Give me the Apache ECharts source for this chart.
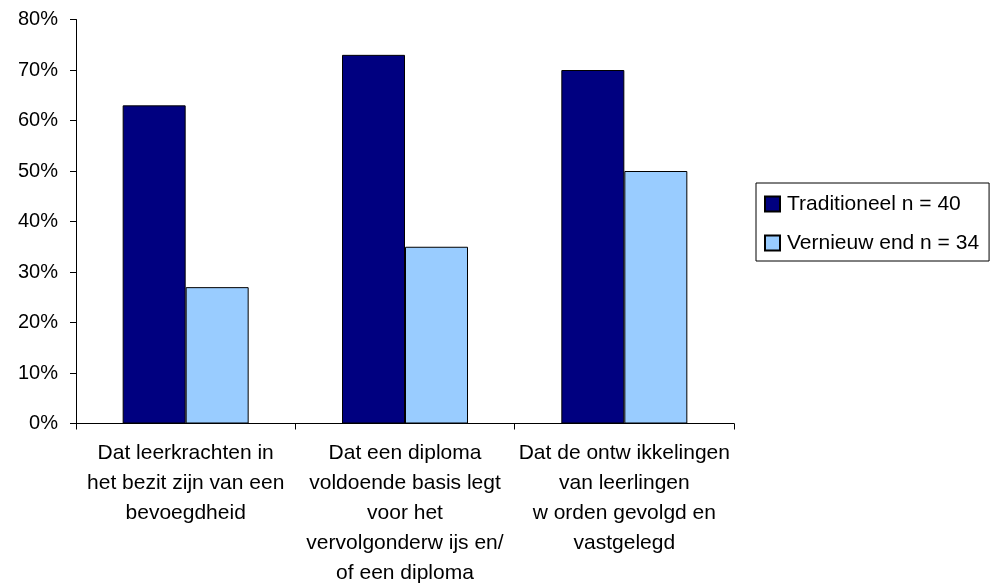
<!DOCTYPE html>
<html>
<head>
<meta charset="utf-8">
<script src="https://cdn.jsdelivr.net/npm/echarts@6/dist/echarts.min.js"></script>
<style>
html,body{margin:0;padding:0;background:#fff;}
#chart{width:992px;height:583px;}
</style>
</head>
<body>
<div id="chart"></div>
<script>
const categories = [
  "Dat leerkrachten in\nhet bezit zijn van een\nbevoegdheid",
  "Dat een diploma\nvoldoende basis legt\nvoor het\nvervolgonderw ijs en/\nof een diploma",
  "Dat de ontw ikkelingen\nvan leerlingen\nw orden gevolgd en\nvastgelegd"
];
const seriesNames = ["Traditioneel n = 40", "Vernieuw end n = 34"];
const traditioneel = [63, 73, 70];
const vernieuwend = [27, 35, 50];
const yTicks = [0, 10, 20, 30, 40, 50, 60, 70, 80];

const FONT = '"Liberation Sans", Arial, sans-serif';
const chart = echarts.init(document.getElementById('chart'), null, {renderer: 'canvas'});
chart.setOption({
  animation: false,
  backgroundColor: '#fff',
  textStyle: {fontFamily: FONT, color: '#000'},
  grid: {left: 76, top: 19.5, width: 658, height: 404, containLabel: false, outerBoundsMode: 'none'},
  legend: {
    orient: 'vertical',
    left: 756,
    top: 183,
    data: seriesNames,
    itemWidth: 15,
    itemHeight: 15,
    itemGap: 17,
    padding: [10, 10, 7, 8],
    borderColor: '#000',
    borderWidth: 1,
    backgroundColor: '#fff',
    icon: 'rect',
    textStyle: {fontFamily: FONT, fontSize: 21, color: '#000', lineHeight: 22, padding: [0, 0, 0, 2]}
  },
  xAxis: {
    type: 'category',
    data: categories,
    axisLine: {lineStyle: {color: '#000', width: 1}},
    axisTick: {show: true, length: 6, lineStyle: {color: '#000'}},
    axisLabel: {fontFamily: FONT, fontSize: 21, color: '#000', lineHeight: 30, margin: 15, interval: 0, align: 'center'}
  },
  yAxis: {
    type: 'value',
    min: yTicks[0],
    max: yTicks[yTicks.length - 1],
    interval: 10,
    splitLine: {show: false},
    axisLine: {show: true, lineStyle: {color: '#000', width: 1}},
    axisTick: {show: true, length: 6, lineStyle: {color: '#000'}},
    axisLabel: {fontFamily: FONT, fontSize: 20, color: '#000', margin: 18, formatter: v => v + '%'}
  },
  series: [
    {
      name: seriesNames[0],
      type: 'bar',
      data: traditioneel,
      barWidth: 63,
      barGap: '0%',
      itemStyle: {color: '#000080', borderColor: '#000', borderWidth: 1}
    },
    {
      name: seriesNames[1],
      type: 'bar',
      data: vernieuwend,
      barWidth: 63,
      barGap: '0%',
      itemStyle: {color: '#99CCFF', borderColor: '#000', borderWidth: 1}
    }
  ]
});
</script>
</body>
</html>
